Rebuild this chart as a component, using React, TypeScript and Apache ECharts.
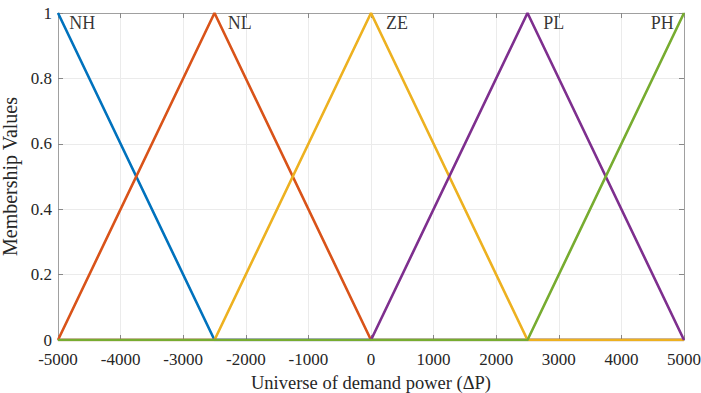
import React, { useEffect, useRef } from "react";
import * as echarts from "echarts";

const xValues = [-5000, -2500, 0, 2500, 5000];
const seriesNames = ["NH", "NL", "ZE", "PL", "PH"];
const nhValues = [1, 0, 0, 0, 0];
const nlValues = [0, 1, 0, 0, 0];
const zeValues = [0, 0, 1, 0, 0];
const plValues = [0, 0, 0, 1, 0];
const phValues = [0, 0, 0, 0, 1];
const colors = ["#0072BD", "#D95319", "#EDB120", "#7E2F8E", "#77AC30"];
const labelX = [-4820, -2290, 240, 2750, 4470];
const labelY = [0.97, 0.97, 0.97, 0.97, 0.97];

const FONT = "'Liberation Serif', 'Times New Roman', serif";
const TXT = "#262626";

export default function App() {
  const ref = useRef<HTMLDivElement>(null);
  useEffect(() => {
    document.body.style.margin = "0";
    if (!ref.current) return;
    const chart = echarts.init(ref.current, null, { renderer: "svg" });
    const allValues = [nhValues, nlValues, zeValues, plValues, phValues];
    const lineSeries = seriesNames.map((name, i) => ({
      name,
      type: "line",
      data: xValues.map((x, j) => [x, allValues[i][j]]),
      showSymbol: false,
      symbol: "none",
      lineStyle: { color: colors[i], width: 2.6 },
      itemStyle: { color: colors[i] },
      xAxisIndex: 0,
      yAxisIndex: 0,
      z: 3 + i,
    }));
    const labelSeries = {
      name: "labels",
      type: "scatter",
      symbolSize: 0,
      data: seriesNames.map((n, i) => ({ value: [labelX[i], labelY[i]], name: n })),
      label: {
        show: true,
        position: "right",
        distance: 0,
        formatter: (p: any) => p.name,
        color: "#000",
        fontFamily: FONT,
        fontSize: 18,
      },
      z: 10,
      silent: true,
    };
    const axisLineStyle = { color: "#a0a0a0", width: 1 };
    chart.setOption({
      animation: false,
      backgroundColor: "#ffffff",
      grid: { left: 58, right: 17, top: 13, bottom: 53, outerBoundsMode: "none" },
      xAxis: [
        {
          type: "value",
          min: -5000,
          max: 5000,
          interval: 1000,
          position: "bottom",
          name: "Universe of demand power (\u0394P)",
          nameLocation: "middle",
          nameGap: 33,
          nameTextStyle: { fontFamily: FONT, fontSize: 18.5, color: TXT },
          axisLine: { show: true, onZero: false, lineStyle: axisLineStyle },
          axisTick: { show: true, inside: true, length: 5, lineStyle: { color: "#888" } },
          axisLabel: {
            fontFamily: FONT,
            fontSize: 17,
            lineHeight: 16,
            color: TXT,
            margin: 11,
            formatter: (v: number) => String(v),
          },
          splitLine: { show: true, lineStyle: { color: "#ebebeb", width: 1 } },
        },
        {
          type: "value",
          min: -5000,
          max: 5000,
          interval: 1000,
          position: "top",
          axisLine: { show: true, onZero: false, lineStyle: axisLineStyle },
          axisTick: { show: true, inside: true, length: 5, lineStyle: { color: "#888" } },
          axisLabel: { show: false },
          splitLine: { show: false },
        },
      ],
      yAxis: [
        {
          type: "value",
          min: 0,
          max: 1,
          interval: 0.2,
          position: "left",
          name: "Membership Values",
          nameLocation: "middle",
          nameGap: 27,
          nameTextStyle: { fontFamily: FONT, fontSize: 20, color: TXT },
          axisLine: { show: true, onZero: false, lineStyle: axisLineStyle },
          axisTick: { show: true, inside: true, length: 5, lineStyle: { color: "#888" } },
          axisLabel: {
            fontFamily: FONT,
            fontSize: 17,
            lineHeight: 14,
            color: TXT,
            margin: 6,
            formatter: (v: number) => (v === 0 || v === 1 ? String(v) : v.toFixed(1)),
          },
          splitLine: { show: true, lineStyle: { color: "#ebebeb", width: 1 } },
        },
        {
          type: "value",
          min: 0,
          max: 1,
          interval: 0.2,
          position: "right",
          axisLine: { show: true, onZero: false, lineStyle: axisLineStyle },
          axisTick: { show: true, inside: true, length: 5, lineStyle: { color: "#888" } },
          axisLabel: { show: false },
          splitLine: { show: false },
        },
      ],
      series: [...lineSeries, labelSeries],
    });
    return () => chart.dispose();
  }, []);
  return <div ref={ref} style={{ width: 701, height: 393 }} />;
}
